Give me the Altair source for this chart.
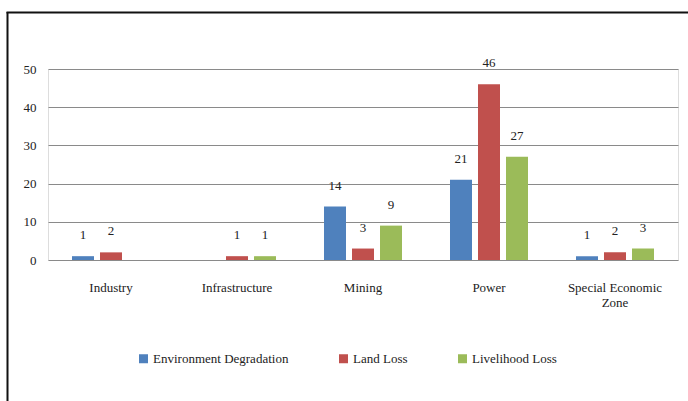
import altair as alt
import pandas as pd

# Displacement causes by project type
categories = ["Industry", "Infrastructure", "Mining", "Power", "Special Economic Zone"]
series = ["Environment Degradation", "Land Loss", "Livelihood Loss"]
environment = [1, 0, 14, 21, 1]
land_loss = [2, 1, 3, 46, 2]
livelihood = [0, 1, 9, 27, 3]
colors = ["#4F81BD", "#C0504D", "#9BBB59"]
y_ticks = [0, 10, 20, 30, 40, 50]

rows = []
for name, vals in zip(series, [environment, land_loss, livelihood]):
    for cat, v in zip(categories, vals):
        rows.append({"category": cat, "series": name, "value": v})
df = pd.DataFrame(rows)

FONT = "'Liberation Serif', 'Times New Roman', serif"
TEXT = "#222222"

x = alt.X(
    "category:N",
    sort=categories,
    scale=alt.Scale(paddingInner=1 / 3, paddingOuter=1 / 6),
    axis=alt.Axis(
        title=None,
        labelAngle=0,
        ticks=False,
        domain=False,
        labelPadding=21,
        labelFont=FONT,
        labelFontSize=13,
        labelColor=TEXT,
        labelLineHeight=15,
        labelExpr="datum.value == 'Special Economic Zone' ? ['Special Economic', 'Zone'] : datum.value",
    ),
)
x_off = alt.XOffset(
    "series:N", sort=series, scale=alt.Scale(paddingInner=0.2143, paddingOuter=0.107)
)
y = alt.Y(
    "value:Q",
    scale=alt.Scale(domain=[0, 50], nice=False),
    axis=alt.Axis(
        title=None,
        values=y_ticks,
        ticks=False,
        domain=False,
        labelPadding=12,
        labelFont=FONT,
        labelFontSize=13,
        labelColor=TEXT,
        gridColor="#8a8a8a",
        gridWidth=1,
    ),
)
color = alt.Color(
    "series:N",
    sort=series,
    scale=alt.Scale(domain=series, range=colors),
    legend=alt.Legend(
        title=None,
        orient="none",
        legendX=89,
        legendY=283,
        direction="horizontal",
        symbolType="square",
        symbolSize=81,
        symbolStrokeWidth=0,
        symbolOpacity=1,
        labelFont=FONT,
        labelFontSize=13,
        labelColor=TEXT,
        labelOffset=3,
        columnPadding=48,
    ),
)

bars = alt.Chart(df).mark_bar().encode(x=x, xOffset=x_off, y=y, color=color)

labels = (
    alt.Chart(df)
    .transform_filter("datum.value > 0")
    .mark_text(dy=-21, baseline="middle", font=FONT, fontSize=13, color=TEXT)
    .encode(x=x, xOffset=x_off, y=y, text="value:Q")
)

frame = alt.Data(values=[{}])
left_edge = alt.Chart(frame).mark_rule(color="#111111", strokeWidth=2).encode(
    x=alt.value(-40.5), y=alt.value(-57), y2=alt.value(340)
)
top_edge = alt.Chart(frame).mark_rule(color="#111111", strokeWidth=2).encode(
    x=alt.value(-41.5), x2=alt.value(650), y=alt.value(-56.5)
)

chart = (
    alt.layer(bars, labels, left_edge, top_edge)
    .properties(
        width=630,
        height=191,
        autosize=alt.AutoSizeParams(type="none"),
        padding={"left": 48, "top": 69, "right": 10, "bottom": 141},
    )
    .configure_view(stroke=None)
    .configure(background="white", font=FONT)
)

chart.save("out.html", embed_options={"renderer": "svg", "actions": False})
